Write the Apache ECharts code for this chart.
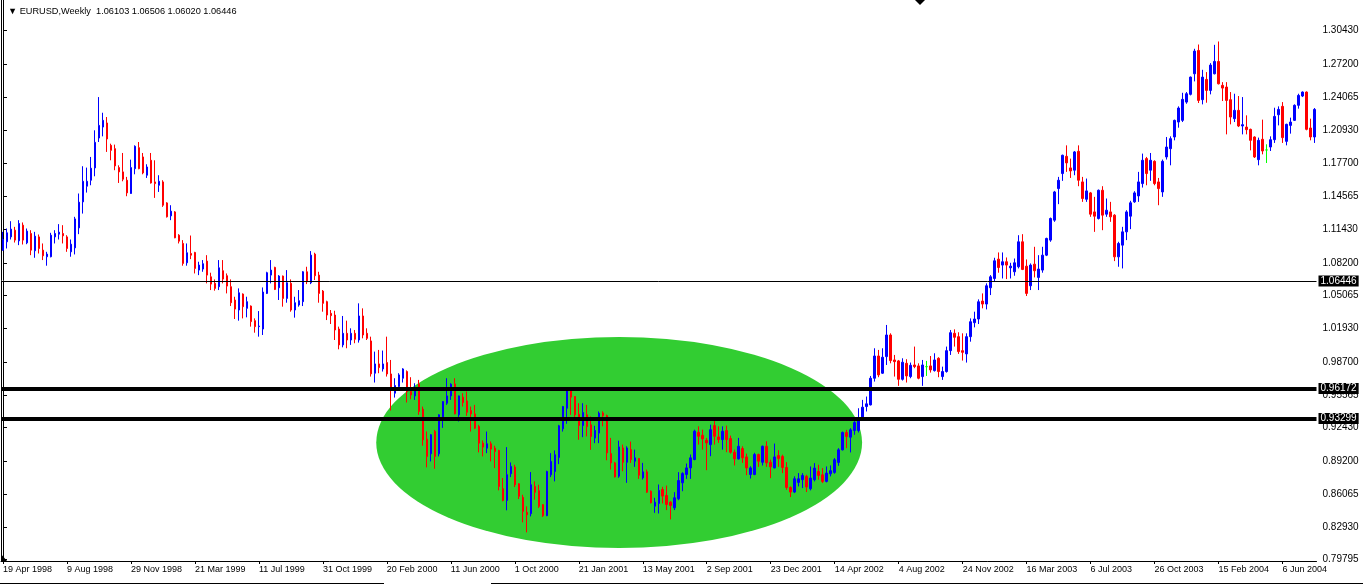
<!DOCTYPE html>
<html><head><meta charset="utf-8">
<script src="https://cdn.jsdelivr.net/npm/echarts@6/dist/echarts.min.js"></script>
<style>html,body{margin:0;padding:0;background:#fff}#c{width:1363px;height:585px}</style>
</head><body><div id="c"></div>
<script>
// ---- data (weekly EURUSD, first bar week of 19 Apr 1998) ----
const firstWeek = [1998, 3, 19];
const opens = [
1.0941,1.1021,1.1068,1.1132,1.1030,1.1180,1.1011,1.1100,1.0935,1.1068,
1.0941,1.0878,1.0878,1.1068,1.1094,1.1100,1.1068,1.0925,1.0963,1.1154,
1.1403,1.1553,1.1610,1.1728,1.2014,1.2119,1.2158,1.1944,1.1912,1.1731,
1.1690,1.1610,1.1483,1.1721,1.1922,1.1833,1.1658,1.1801,1.1594,1.1562,
1.1594,1.1393,1.1269,1.1307,1.1084,1.1005,1.0820,1.0909,1.0919,1.0750,
1.0760,1.0836,1.0686,1.0623,1.0591,1.0744,1.0696,1.0591,1.0463,1.0368,
1.0521,1.0384,1.0406,1.0266,1.0209,1.0186,1.0527,1.0702,1.0776,1.0581,
1.0693,1.0479,1.0623,1.0368,1.0416,1.0448,1.0734,1.0629,1.0903,1.0702,
1.0549,1.0448,1.0336,1.0320,1.0186,1.0034,1.0145,1.0081,1.0145,1.0081,
1.0311,1.0145,1.0072,0.9763,0.9852,0.9804,0.9865,0.9756,0.9572,0.9635,
0.9715,0.9779,0.9588,0.9546,0.9661,0.9419,0.9132,0.8992,0.9206,0.8992,
0.9333,0.9476,0.9546,0.9661,0.9365,0.9534,0.9498,0.9406,0.9374,0.9253,
0.9094,0.9046,0.9088,0.9046,0.9024,0.8658,0.8546,0.8801,0.8865,0.8705,
0.8575,0.8432,0.8419,0.8680,0.8639,0.8505,0.8400,0.8791,0.8823,0.8957,
0.9231,0.9428,0.9604,0.9540,0.9371,0.9263,0.9365,0.9269,0.9142,0.9190,
0.9383,0.9357,0.8994,0.8905,0.8778,0.9048,0.8911,0.9032,0.8921,0.8947,
0.8762,0.8819,0.8634,0.8491,0.8517,0.8650,0.8593,0.8529,0.8475,0.8561,
0.8714,0.8794,0.8857,0.8937,0.9198,0.9169,0.9122,0.9080,0.9262,0.9153,
0.9128,0.9214,0.9138,0.9007,0.8943,0.9042,0.8962,0.8794,0.8794,0.8985,
0.8911,0.9064,0.8911,0.8857,0.8975,0.8967,0.8861,0.8670,0.8626,0.8718,
0.8744,0.8776,0.8658,0.8744,0.8823,0.8791,0.8728,0.8801,0.8814,0.8909,
0.9030,0.9196,0.9151,0.9215,0.9215,0.9342,0.9444,0.9460,0.9715,0.9928,
0.9763,0.9922,1.0129,0.9890,0.9881,0.9705,0.9858,0.9731,0.9842,0.9833,
0.9731,0.9826,0.9833,0.9788,0.9906,0.9731,0.9779,0.9979,1.0145,1.0113,
0.9979,0.9948,1.0113,1.0247,1.0282,1.0454,1.0425,1.0581,1.0670,1.0855,
1.0798,1.0830,1.0772,1.0734,1.0782,1.1021,1.0788,1.0600,1.0807,1.0680,
1.0750,1.0893,1.1037,1.1228,1.1530,1.1674,1.1839,1.1728,1.1706,1.1887,
1.1594,1.1428,1.1489,1.1307,1.1244,1.1514,1.1285,1.1307,1.1276,1.0877,
1.0989,1.1116,1.1266,1.1403,1.1460,1.1578,1.1817,1.1706,1.1791,1.1594,
1.1498,1.1833,1.1912,1.2024,1.2167,1.2183,1.2358,1.2432,1.2629,1.2852,
1.2381,1.2575,1.2470,1.2629,1.2747,1.2518,1.2502,1.2381,1.2199,1.2279,
1.2129,1.2119,1.2097,1.2024,1.1807,1.2002,1.1900,1.1928,1.1998,1.2237,
1.2317,1.1982,1.2135,1.2183,1.2327,1.2416,1.2454,1.2110,1.2024];
const highs = [
1.1116,1.1148,1.1218,1.1164,1.1228,1.1206,1.1148,1.1132,1.1116,1.1091,
1.1005,1.0925,1.1107,1.1132,1.1190,1.1180,1.1084,1.1043,1.1260,1.1483,
1.1744,1.1731,1.1833,1.2088,1.2406,1.2256,1.2215,1.1960,1.1951,1.1753,
1.1871,1.1642,1.1807,1.1944,1.1976,1.1871,1.1763,1.1871,1.1801,1.1658,
1.1610,1.1400,1.1371,1.1315,1.1094,1.1037,1.1005,1.1081,1.0925,1.0830,
1.0846,1.0893,1.0725,1.0661,1.0846,1.0846,1.0718,1.0661,1.0495,1.0575,
1.0527,1.0495,1.0412,1.0288,1.0358,1.0584,1.0734,1.0846,1.0782,1.0702,
1.0698,1.0750,1.0661,1.0495,1.0559,1.0740,1.0782,1.0932,1.0916,1.0734,
1.0559,1.0457,1.0368,1.0361,1.0209,1.0311,1.0266,1.0193,1.0177,1.0432,
1.0384,1.0193,1.0113,0.9970,0.9986,0.9980,1.0113,0.9890,0.9715,0.9763,
0.9811,0.9790,0.9725,0.9667,0.9699,0.9444,0.9206,0.9180,0.9221,0.9370,
0.9495,0.9715,0.9667,0.9715,0.9550,0.9572,0.9588,0.9444,0.9460,0.9269,
0.9120,0.9205,0.9110,0.9069,0.9030,0.8760,0.9056,0.8909,0.8887,0.8710,
0.8600,0.8489,0.8817,0.8728,0.8696,0.8510,0.8830,0.8998,0.9024,0.9269,
0.9450,0.9610,0.9610,0.9545,0.9476,0.9476,0.9460,0.9349,0.9260,0.9397,
0.9399,0.9367,0.9144,0.8915,0.9118,0.9080,0.9064,0.9109,0.9032,0.8950,
0.8905,0.8841,0.8641,0.8571,0.8698,0.8676,0.8688,0.8539,0.8625,0.8816,
0.8816,0.8899,0.8985,0.9223,0.9255,0.9223,0.9144,0.9271,0.9335,0.9255,
0.9255,0.9262,0.9166,0.9032,0.9144,0.9064,0.8994,0.8873,0.9001,0.8994,
0.9071,0.9112,0.8937,0.9090,0.9026,0.8983,0.8912,0.8680,0.8776,0.8807,
0.8807,0.8791,0.8871,0.8903,0.8887,0.8855,0.8871,0.8881,0.8951,0.9046,
0.9205,0.9221,0.9237,0.9317,0.9428,0.9508,0.9540,0.9737,1.0002,0.9986,
1.0002,1.0225,1.0145,0.9938,0.9890,0.9906,0.9897,0.9865,1.0018,0.9858,
0.9890,0.9881,0.9928,0.9954,0.9916,0.9826,1.0018,1.0177,1.0183,1.0155,
1.0145,1.0145,1.0288,1.0352,1.0470,1.0527,1.0623,1.0702,1.0868,1.0919,
1.0919,1.0871,1.0820,1.0861,1.1084,1.1094,1.0852,1.0814,1.0973,1.0893,
1.0973,1.1060,1.1253,1.1508,1.1642,1.1855,1.1944,1.1817,1.1890,1.1944,
1.1642,1.1626,1.1498,1.1451,1.1521,1.1553,1.1435,1.1403,1.1285,1.1021,
1.1164,1.1323,1.1413,1.1505,1.1690,1.1865,1.1833,1.1871,1.1801,1.1632,
1.1808,1.2024,1.2030,1.2190,1.2317,1.2447,1.2454,1.2603,1.2868,1.2909,
1.2667,1.2645,1.2731,1.2906,1.2938,1.2549,1.2549,1.2454,1.2438,1.2416,
1.2406,1.2231,1.2104,1.2030,1.2018,1.2190,1.1954,1.2030,1.2304,1.2317,
1.2358,1.2151,1.2209,1.2336,1.2438,1.2460,1.2460,1.2199,1.2301];
const lows = [
1.0935,1.0957,1.1043,1.1014,1.0989,1.0995,1.0998,1.0893,1.0868,1.0909,
1.0846,1.0792,1.0872,1.1005,1.1043,1.1005,1.0925,1.0878,1.0900,1.1094,
1.1291,1.1492,1.1562,1.1648,1.1976,1.2030,1.1881,1.1801,1.1706,1.1584,
1.1600,1.1457,1.1480,1.1667,1.1715,1.1667,1.1632,1.1578,1.1441,1.1498,
1.1355,1.1253,1.1228,1.1055,1.1005,1.0792,1.0792,1.0855,1.0718,1.0702,
1.0734,1.0623,1.0559,1.0553,1.0559,1.0623,1.0527,1.0406,1.0282,1.0266,
1.0288,1.0298,1.0209,1.0151,1.0113,1.0129,1.0521,1.0623,1.0559,1.0464,
1.0400,1.0438,1.0352,1.0295,1.0400,1.0406,1.0616,1.0616,1.0655,1.0438,
1.0352,1.0272,1.0234,1.0081,0.9992,1.0011,1.0002,1.0034,1.0050,1.0056,
1.0097,1.0081,0.9731,0.9674,0.9763,0.9779,0.9731,0.9406,0.9530,0.9604,
0.9674,0.9483,0.9514,0.9508,0.9365,0.9069,0.8862,0.8919,0.8849,0.8967,
0.9240,0.9460,0.9508,0.9370,0.9301,0.9444,0.9355,0.9205,0.9228,0.9005,
0.8967,0.8998,0.8919,0.8855,0.8642,0.8537,0.8451,0.8769,0.8674,0.8559,
0.8336,0.8240,0.8393,0.8553,0.8473,0.8387,0.8395,0.8769,0.8728,0.8893,
0.9205,0.9279,0.9365,0.9323,0.9126,0.9151,0.9158,0.9030,0.9094,0.9094,
0.9255,0.8930,0.8841,0.8765,0.8762,0.8825,0.8714,0.8905,0.8867,0.8752,
0.8746,0.8618,0.8517,0.8427,0.8421,0.8517,0.8453,0.8364,0.8453,0.8548,
0.8634,0.8752,0.8752,0.8930,0.9080,0.9032,0.8835,0.8969,0.9080,0.9096,
0.9032,0.9007,0.8994,0.8880,0.8937,0.8905,0.8787,0.8755,0.8787,0.8867,
0.8880,0.8867,0.8759,0.8852,0.8867,0.8807,0.8648,0.8578,0.8616,0.8680,
0.8664,0.8626,0.8642,0.8728,0.8744,0.8712,0.8718,0.8776,0.8801,0.8877,
0.9024,0.9046,0.9005,0.9174,0.9196,0.9333,0.9397,0.9455,0.9683,0.9725,
0.9756,0.9842,0.9858,0.9731,0.9642,0.9693,0.9674,0.9715,0.9811,0.9705,
0.9642,0.9737,0.9769,0.9779,0.9725,0.9699,0.9769,0.9938,1.0018,0.9948,
0.9884,0.9865,1.0065,1.0202,1.0234,1.0384,1.0374,1.0511,1.0639,1.0725,
1.0670,1.0664,1.0670,1.0696,1.0766,1.0750,1.0502,1.0559,1.0680,1.0559,
1.0725,1.0884,1.1021,1.1212,1.1381,1.1604,1.1690,1.1632,1.1658,1.1553,
1.1403,1.1403,1.1260,1.1116,1.1234,1.1132,1.1260,1.1212,1.0836,1.0782,
1.0766,1.1037,1.1142,1.1394,1.1403,1.1540,1.1562,1.1604,1.1562,1.1371,
1.1451,1.1808,1.1753,1.1992,1.2113,1.2167,1.2342,1.2422,1.2556,1.2349,
1.2336,1.2352,1.2432,1.2623,1.2527,1.2368,1.2049,1.2145,1.2167,1.2119,
1.2049,1.2049,1.1896,1.1823,1.1753,1.1858,1.1775,1.1890,1.1967,1.2135,
1.1967,1.1944,1.2056,1.2177,1.2295,1.2406,1.2088,1.1992,1.1967];
const closes = [
1.1043,1.1107,1.1142,1.1037,1.1196,1.1037,1.1123,1.0941,1.1075,1.0957,
1.0887,1.0903,1.1084,1.1100,1.1113,1.1078,1.0957,1.0998,1.1240,1.1400,
1.1600,1.1600,1.1725,1.1973,1.2135,1.2183,1.2005,1.1896,1.1747,1.1690,
1.1620,1.1489,1.1731,1.1935,1.1721,1.1680,1.1737,1.1584,1.1578,1.1600,
1.1371,1.1260,1.1314,1.1059,1.1027,1.0814,1.0916,1.0893,1.0766,1.0798,
1.0811,1.0702,1.0616,1.0575,1.0772,1.0664,1.0597,1.0438,1.0377,1.0533,
1.0400,1.0448,1.0257,1.0209,1.0215,1.0540,1.0725,1.0750,1.0565,1.0693,
1.0479,1.0629,1.0368,1.0438,1.0457,1.0734,1.0639,1.0893,1.0696,1.0527,
1.0432,1.0320,1.0314,1.0177,1.0034,1.0145,1.0081,1.0145,1.0088,1.0311,
1.0129,1.0097,0.9757,0.9852,0.9817,0.9852,0.9756,0.9600,0.9645,0.9747,
0.9804,0.9588,0.9556,0.9610,0.9397,0.9126,0.8967,0.9174,0.8967,0.9365,
0.9492,0.9546,0.9658,0.9374,0.9546,0.9483,0.9390,0.9374,0.9237,0.9094,
0.9056,0.9088,0.9037,0.9014,0.8680,0.8546,0.8792,0.8871,0.8696,0.8585,
0.8441,0.8409,0.8696,0.8623,0.8489,0.8400,0.8823,0.8919,0.8983,0.9260,
0.9444,0.9597,0.9534,0.9365,0.9263,0.9387,0.9253,0.9158,0.9215,0.9381,
0.9357,0.9001,0.8905,0.8771,0.9058,0.8911,0.9048,0.8937,0.8953,0.8787,
0.8819,0.8625,0.8523,0.8529,0.8641,0.8587,0.8507,0.8497,0.8571,0.8736,
0.8803,0.8857,0.8953,0.9208,0.9160,0.9134,0.9096,0.9223,0.9160,0.9128,
0.9208,0.9128,0.9007,0.8943,0.9064,0.8953,0.8857,0.8857,0.8985,0.8921,
0.9064,0.8905,0.8867,0.8962,0.8947,0.8861,0.8670,0.8626,0.8753,0.8753,
0.8785,0.8674,0.8760,0.8855,0.8785,0.8728,0.8807,0.8830,0.8935,0.9030,
0.9196,0.9158,0.9221,0.9291,0.9323,0.9438,0.9470,0.9715,0.9928,0.9747,
0.9916,1.0129,0.9884,0.9874,0.9705,0.9868,0.9737,0.9839,0.9826,0.9715,
0.9842,0.9826,0.9795,0.9890,0.9779,0.9779,0.9979,1.0151,1.0107,0.9970,
0.9963,1.0113,1.0256,1.0282,1.0447,1.0425,1.0600,1.0686,1.0839,1.0775,
1.0830,1.0798,1.0788,1.0820,1.1021,1.0756,1.0527,1.0798,1.0744,1.0760,
1.0893,1.1053,1.1244,1.1498,1.1610,1.1849,1.1776,1.1699,1.1881,1.1610,
1.1435,1.1508,1.1285,1.1266,1.1514,1.1276,1.1323,1.1260,1.0877,1.1005,
1.1116,1.1307,1.1394,1.1489,1.1594,1.1801,1.1674,1.1801,1.1578,1.1530,
1.1791,1.1928,1.2008,1.2183,1.2301,1.2384,1.2438,1.2597,1.2846,1.2374,
1.2597,1.2470,1.2712,1.2747,1.2533,1.2492,1.2374,1.2215,1.2279,1.2129,
1.2142,1.2094,1.1992,1.1833,1.1992,1.1890,1.1900,1.1998,1.2221,1.2288,
1.2018,1.2145,1.2167,1.2327,1.2422,1.2454,1.2097,1.2024,1.2288];
const priceTicks = [1.30430,1.27200,1.24065,1.20930,1.17700,1.14565,1.11430,1.08200,1.05065,1.01930,0.98700,0.95565,0.92430,0.89200,0.86065,0.82930,0.79795];
const levels = [1.06446, 0.96172, 0.93299];
const header = 'EURUSD,Weekly  1.06103 1.06506 1.06020 1.06446';
// ellipse: [centre bar index, centre price, half-width in bars, half-height in price]
const zone = [154.1, 0.9100, 60.75, 0.1010];

// ---- build ----
const MONTHS = ['Jan','Feb','Mar','Apr','May','Jun','Jul','Aug','Sep','Oct','Nov','Dec'];
const t0 = Date.UTC(firstWeek[0], firstWeek[1], firstWeek[2]);
const categories = opens.map((_, i) => {
  const d = new Date(t0 + i * 7 * 86400000);
  return d.getUTCDate() + ' ' + MONTHS[d.getUTCMonth()] + ' ' + d.getUTCFullYear();
});
const N = opens.length;
const candles = opens.map((o, i) => {
  const item = { value: [o, closes[i], lows[i], highs[i]] };
  if (o === closes[i]) item.itemStyle = { color: '#00ff00', borderColor: '#00ff00' };
  return item;
});
const YMIN = 0.7966, YMAX = 1.3335;
const FONT = 'Liberation Sans, Arial, sans-serif';

const chart = echarts.init(document.getElementById('c'), null, { renderer: 'canvas' });
chart.setOption({
  animation: false,
  backgroundColor: '#ffffff',
  title: {
    text: '\u25BC ' + header, left: 3, top: 2,
    textStyle: { fontSize: 9.2, fontWeight: 'normal', color: '#000', fontFamily: FONT }
  },
  grid: { left: 0.5, right: 46.5, top: 0, bottom: 24, containLabel: false },
  xAxis: [{
    type: 'category', data: categories, boundaryGap: true,
    axisLine: { show: true, onZero: false, lineStyle: { color: '#000', width: 1 } },
    axisTick: { show: true, interval: 15, alignWithLabel: true, length: 3, lineStyle: { color: '#000' } },
    axisLabel: { interval: 15, align: 'left', padding: [0, 0, 0, 0], color: '#000', fontSize: 9, fontFamily: FONT, margin: 4 },
    splitLine: { show: false }
  }, {
    type: 'value', min: -0.5, max: N - 0.5, show: false
  }],
  yAxis: [{
    type: 'value', position: 'right', min: YMIN, max: YMAX,
    axisLine: { show: true, lineStyle: { color: '#000', width: 1 } },
    axisTick: { show: true, customValues: priceTicks, length: 4, lineStyle: { color: '#000' } },
    axisLabel: { customValues: priceTicks, formatter: v => v.toFixed(5), color: '#000', fontSize: 10, fontFamily: FONT, margin: 6 },
    splitLine: { show: false }
  }, {
    type: 'value', position: 'left', min: YMIN, max: YMAX,
    axisLine: { show: true, lineStyle: { color: '#000', width: 1 } },
    axisTick: { show: false }, axisLabel: { show: false }, splitLine: { show: false }
  }],
  series: [{
    type: 'custom', xAxisIndex: 1, yAxisIndex: 0, z: 1, silent: true, clip: false,
    data: [zone],
    renderItem: (params, api) => {
      const c = api.coord([api.value(0), api.value(1)]);
      const e = api.coord([api.value(0) + api.value(2), api.value(1) + api.value(3)]);
      const rx = Math.abs(e[0] - c[0]), ry = Math.abs(c[1] - e[1]);
      return { type: 'circle', x: c[0], y: c[1], scaleY: ry / rx,
        shape: { cx: 0, cy: 0, r: rx }, style: { fill: '#32cd32' } };
    }
  }, {
    type: 'candlestick', xAxisIndex: 0, yAxisIndex: 0, z: 3, barWidth: 2,
    itemStyle: { color: '#0000ff', color0: '#ff0000', borderColor: '#0000ff', borderColor0: '#ff0000', borderWidth: 1 },
    data: candles,
    markLine: {
      symbol: 'none', silent: true, animation: false, precision: 5,
      lineStyle: { color: '#000', type: 'solid' },
      label: { position: 'end', distance: 2, formatter: p => Number(p.value).toFixed(5),
        backgroundColor: '#000', color: '#fff', fontSize: 10, fontFamily: FONT, padding: [1, 2, 0, 2] },
      emphasis: { disabled: true },
      data: levels.map((v, k) => ({ yAxis: v, lineStyle: { width: k === 0 ? 1 : 4 } }))
    }
  }],
  graphic: [
    { type: 'polygon', shape: { points: [[915, 0], [925, 0], [920, 5]] }, style: { fill: '#000' } },
    { type: 'polygon', shape: { points: [[1, 554], [1, 561], [7, 561]] }, style: { fill: '#000' } },
    { type: 'line', shape: { x1: 0, y1: 583.5, x2: 384, y2: 583.5 }, style: { stroke: '#000', lineWidth: 1 } },
    { type: 'line', shape: { x1: 491, y1: 583.5, x2: 1363, y2: 583.5 }, style: { stroke: '#000', lineWidth: 1 } }
  ]
});
</script></body></html>
